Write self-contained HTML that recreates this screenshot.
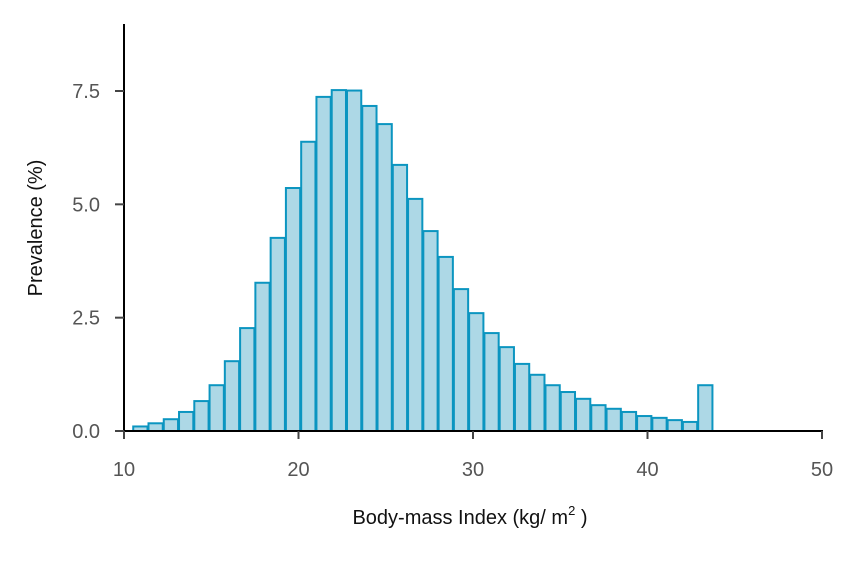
<!DOCTYPE html>
<html><head><meta charset="utf-8"><style>
body{margin:0;background:#fff}
svg text{font-family:"Liberation Sans",sans-serif}
</style></head><body>
<svg width="858" height="566">
<g id="bars"></g>
<g id="axes"></g>
<text x="470" y="524" text-anchor="middle" font-size="20" fill="#111">Body-mass Index (kg/ m<tspan dy="-9" font-size="13">2</tspan><tspan dy="9"> )</tspan></text>
<text transform="translate(42,228) rotate(-90)" text-anchor="middle" font-size="20" fill="#111">Prevalence (%)</text>
</svg>
<script>
const binStart = 10.5;
const binWidth = 0.875;
const values = [0.1,0.17,0.26,0.42,0.66,1.01,1.54,2.27,3.27,4.26,5.36,6.38,7.37,7.52,7.51,7.17,6.77,5.87,5.12,4.41,3.84,3.13,2.6,2.16,1.85,1.48,1.24,1.01,0.86,0.71,0.57,0.49,0.42,0.33,0.29,0.24,0.2,1.01];
const xTicks = [10,20,30,40,50];
const yTicks = [0,2.5,5,7.5];
const yTickLabels = ["0.0","2.5","5.0","7.5"];
const NS="http://www.w3.org/2000/svg";
const xs = v => 124 + (v-10)*(822-124)/40;
const ys = v => 431 - v*(431-91)/7.5;
const bars=document.getElementById('bars'), axes=document.getElementById('axes');
function mk(tag,attrs,parent){const e=document.createElementNS(NS,tag);for(const k in attrs)e.setAttribute(k,attrs[k]);parent.appendChild(e);return e;}
values.forEach((v,i)=>{
  const x0=xs(binStart+i*binWidth), x1=xs(binStart+(i+1)*binWidth);
  const r=mk('rect',{x:x0+0.5,y:ys(v),width:x1-x0-1,height:ys(0)-ys(v),fill:'#add8e6',stroke:'#0b95c0','stroke-width':2},bars);
  
  
});
mk('line',{x1:124,y1:24,x2:124,y2:432,stroke:'#000','stroke-width':2},axes);
mk('line',{x1:123,y1:431,x2:823,y2:431,stroke:'#000','stroke-width':2},axes);
xTicks.forEach(t=>{
  mk('line',{x1:xs(t),y1:431,x2:xs(t),y2:439,stroke:'#444','stroke-width':2},axes);
  const tx=mk('text',{x:xs(t),y:476,'text-anchor':'middle','font-size':20,fill:'#555'},axes);
  tx.textContent=t;
  
  
});
yTicks.forEach((t,i)=>{
  mk('line',{x1:115,y1:ys(t),x2:124,y2:ys(t),stroke:'#444','stroke-width':2},axes);
  const tx=mk('text',{x:100,y:ys(t)+7,'text-anchor':'end','font-size':20,fill:'#555'},axes);
  tx.textContent=yTickLabels[i];
  
  
});
</script>
</body></html>
